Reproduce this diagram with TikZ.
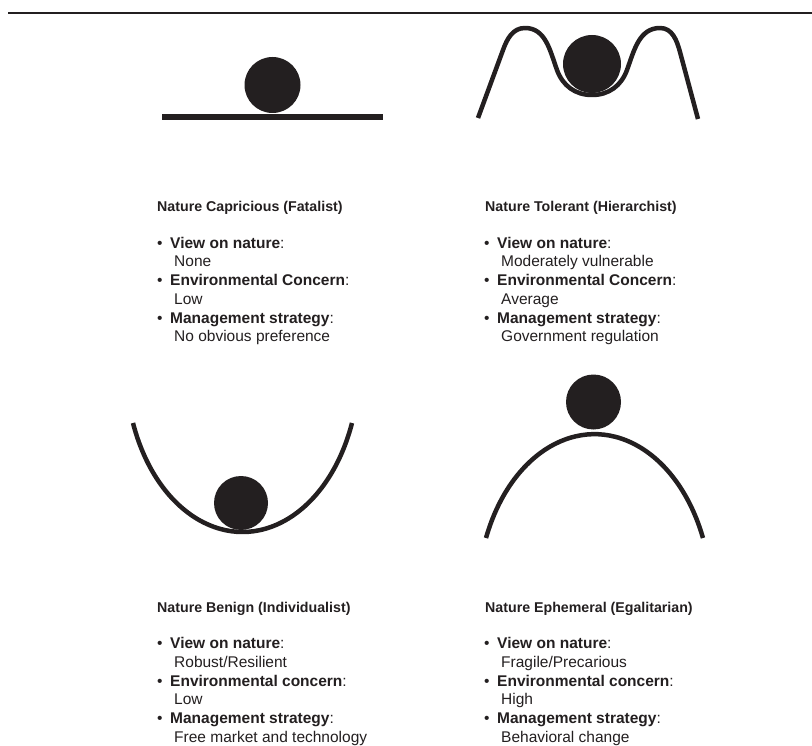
\documentclass[tikz,border=0pt]{standalone}
\usepackage{fontspec}
\setmainfont{Liberation Sans}
\definecolor{ink}{RGB}{35,31,32}
\tikzset{
  head/.style={anchor=base west, inner sep=0pt, text=ink, font=\fontsize{14.2}{17}\selectfont\bfseries},
  item/.style={anchor=base west, inner sep=0pt, text=ink, font=\fontsize{15.5}{18.7}\selectfont},
  curve/.style={draw=ink, line width=4.5pt, line join=round},
  ball/.style={fill=ink}
}
\newcommand{\bul}{\makebox[13pt][l]{•}}
\begin{document}
\begin{tikzpicture}[x=1pt,y=1pt]

      \useasboundingbox (0,0) rectangle (812,-746);
      \draw[ink, line width=2pt] (8,-13) -- (812,-13);

      % the four pictures
      \fill[ball] (162,-114) rectangle (383,-120);
      \fill[ball] (272.5,-85) circle (28);

      \draw[curve] (478,-118) -- (503,-50) to[out=70,in=180] (525,-28)
        to[out=0,in=110] (557,-70) to[out=-70,in=180] (592,-95)
        to[out=0,in=-110] (627,-70) to[out=70,in=180] (660,-28)
        to[out=0,in=105] (680,-52) -- (698,-119);
      \fill[ball] (592,-64) circle (29);

      \draw[curve] (133,-423) arc[start angle=200.1, end angle=339.9, x radius=116.6, y radius=166];
      \fill[ball] (241,-503) circle (27);

      \draw[curve] (486,-538) arc[start angle=158, end angle=22, x radius=117, y radius=166];
      \fill[ball] (593.5,-402) circle (27.5);

      % texts
      \begin{scope}
        \node[head] (fatal)   at (157,-212)   {Nature Capricious (Fatalist)};
        \node[item] (fatal-1) at (157,-248.3) {\bul\textbf{View on nature}:};
        \node[item] (fatal-2) at (174,-267)   {None};
        \node[item] (fatal-3) at (157,-285.7) {\bul\textbf{Environmental Concern}:};
        \node[item] (fatal-4) at (174,-304.4) {Low};
        \node[item] (fatal-5) at (157,-323.1) {\bul\textbf{Management strategy}:};
        \node[item] (fatal-6) at (174,-341.8) {No obvious preference};
      \end{scope}

      \begin{scope}[shift={(327,0)}]
        \node[head] (hier)   at (158,-212)   {Nature Tolerant (Hierarchist)};
        \node[item] (hier-1) at (157,-248.3) {\bul\textbf{View on nature}:};
        \node[item] (hier-2) at (174,-267)   {Moderately vulnerable};
        \node[item] (hier-3) at (157,-285.7) {\bul\textbf{Environmental Concern}:};
        \node[item] (hier-4) at (174,-304.4) {Average};
        \node[item] (hier-5) at (157,-323.1) {\bul\textbf{Management strategy}:};
        \node[item] (hier-6) at (174,-341.8) {Government regulation};
      \end{scope}

      \begin{scope}[shift={(0,-400.5)}]
        \node[head] (indiv)   at (157,-212)   {Nature Benign (Individualist)};
        \node[item] (indiv-1) at (157,-248.3) {\bul\textbf{View on nature}:};
        \node[item] (indiv-2) at (174,-267)   {Robust/Resilient};
        \node[item] (indiv-3) at (157,-285.7) {\bul\textbf{Environmental concern}:};
        \node[item] (indiv-4) at (174,-304.4) {Low};
        \node[item] (indiv-5) at (157,-323.1) {\bul\textbf{Management strategy}:};
        \node[item] (indiv-6) at (174,-341.8) {Free market and technology};
      \end{scope}

      \begin{scope}[shift={(327,-400.5)}]
        \node[head] (egal)   at (158,-212)   {Nature Ephemeral (Egalitarian)};
        \node[item] (egal-1) at (157,-248.3) {\bul\textbf{View on nature}:};
        \node[item] (egal-2) at (174,-267)   {Fragile/Precarious};
        \node[item] (egal-3) at (157,-285.7) {\bul\textbf{Environmental concern}:};
        \node[item] (egal-4) at (174,-304.4) {High};
        \node[item] (egal-5) at (157,-323.1) {\bul\textbf{Management strategy}:};
        \node[item] (egal-6) at (174,-341.8) {Behavioral change};
      \end{scope}

    \end{tikzpicture}
\end{document}
